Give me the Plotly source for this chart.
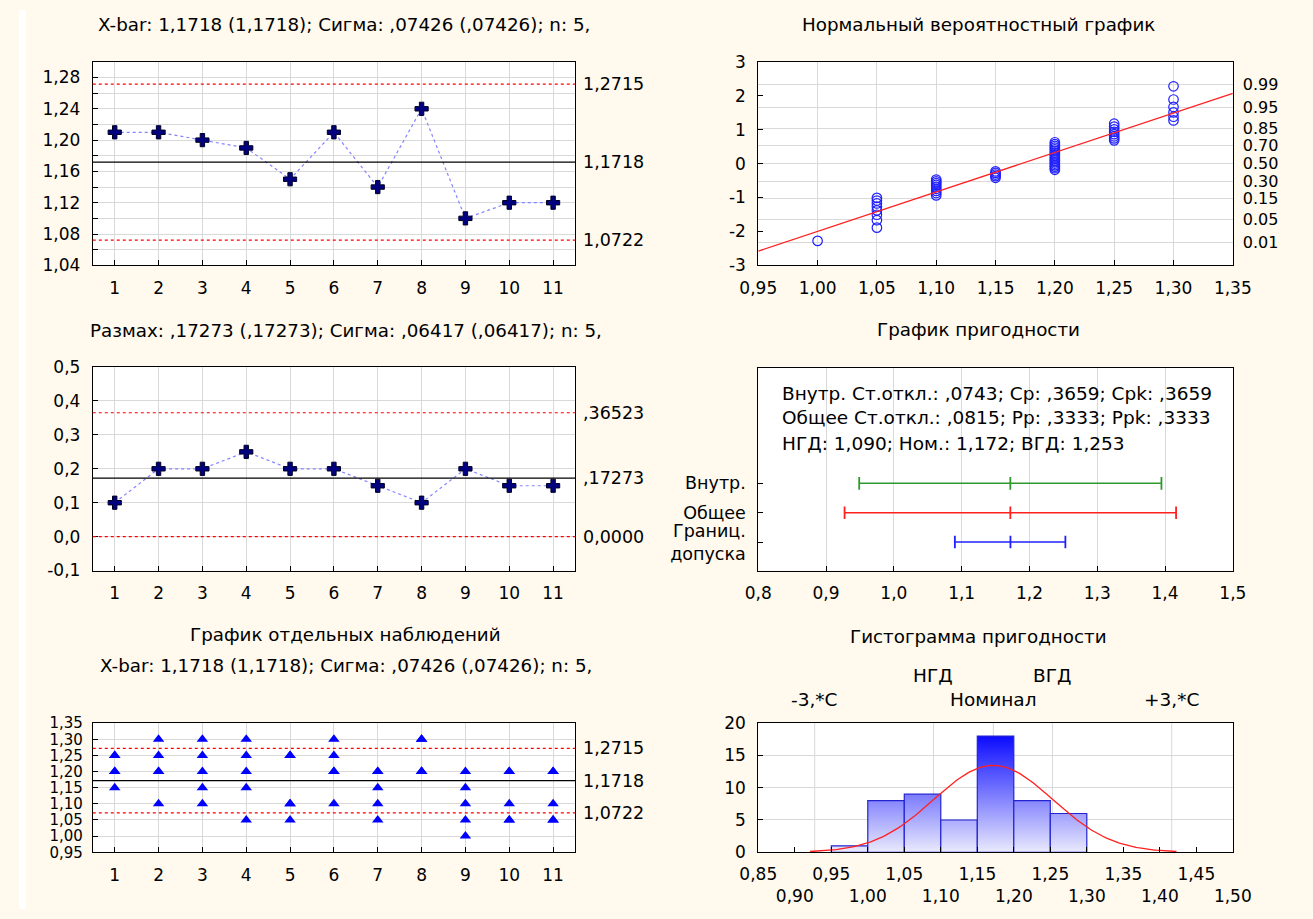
import numpy as np
import plotly.graph_objects as go
from statistics import NormalDist

W, H = 1313, 919
FONT = "DejaVu Sans"
BG = "#FFF9EE"
GRID = "#d9d9d9"

# ---------------- data ----------------
sample_no = list(range(1, 12))

# individual measurements, five per sample
obs_1 = [1.25, 1.25, 1.20, 1.20, 1.15]
obs_2 = [1.30, 1.25, 1.20, 1.20, 1.10]
obs_3 = [1.30, 1.25, 1.20, 1.15, 1.10]
obs_4 = [1.30, 1.25, 1.20, 1.15, 1.05]
obs_5 = [1.25, 1.25, 1.10, 1.10, 1.05]
obs_6 = [1.30, 1.25, 1.20, 1.20, 1.10]
obs_7 = [1.20, 1.20, 1.15, 1.10, 1.05]
obs_8 = [1.30, 1.30, 1.20, 1.20, 1.20]
obs_9 = [1.20, 1.15, 1.10, 1.05, 1.00]
obs_10 = [1.20, 1.20, 1.10, 1.05, 1.05]
obs_11 = [1.20, 1.20, 1.10, 1.05, 1.05]
samples = [obs_1, obs_2, obs_3, obs_4, obs_5, obs_6, obs_7, obs_8, obs_9, obs_10, obs_11]

# sample means and ranges
xbar_values = [1.21, 1.21, 1.20, 1.19, 1.15, 1.21, 1.14, 1.24, 1.10, 1.12, 1.12]
range_values = [0.10, 0.20, 0.20, 0.25, 0.20, 0.20, 0.15, 0.10, 0.20, 0.15, 0.15]

# control limits
xbar_limits = [1.2715, 1.1718, 1.0722]
xbar_limit_labels = ["1,2715", "1,1718", "1,0722"]
r_limits = [0.36523, 0.17273, 0.0]
r_limit_labels = [",36523", ",17273", "0,0000"]

# histogram
hist_edges = [0.95, 1.00, 1.05, 1.10, 1.15, 1.20, 1.25, 1.30]
hist_counts = [1, 8, 9, 5, 18, 8, 6]

# capability statistics
grand_mean = 1.1718
within_sd = 0.0743
overall_sd = 0.0815
lsl, nominal, usl = 1.090, 1.172, 1.253
cap_rows = [3, 2, 1]
cap_row_labels = ["Внутр.", "Общее", "Границ.<br>допуска"]
cap_text = [
    "Внутр. Ст.откл.: ,0743; Cp: ,3659; Cpk: ,3659",
    "Общее Ст.откл.: ,0815; Pp: ,3333; Ppk: ,3333",
    "НГД: 1,090; Ном.: 1,172; ВГД: 1,253",
]

# probability ticks of the normal plot
prob_ticks = [0.01, 0.05, 0.15, 0.30, 0.50, 0.70, 0.85, 0.95, 0.99]
prob_labels = ["0.01", "0.05", "0.15", "0.30", "0.50", "0.70", "0.85", "0.95", "0.99"]

# histogram x tick labels (two staggered rows)
hist_xticks = [0.85, 0.90, 0.95, 1.00, 1.05, 1.10, 1.15, 1.20, 1.25, 1.30, 1.35, 1.40, 1.45, 1.50]


def fmt(v, nd):
    return f"{v:.{nd}f}".replace(".", ",")


def xd(a, b):
    return [a / W, b / W]


def yd(top, bottom):
    return [1 - bottom / H, 1 - top / H]


def ax(**kw):
    base = dict(showline=True, linecolor="black", linewidth=1, mirror=True,
                ticks="inside", ticklen=5, tickcolor="black",
                showgrid=True, gridcolor=GRID, gridwidth=1, zeroline=False,
                tickfont=dict(family=FONT, size=17, color="black"))
    base.update(kw)
    return base


LX = (76, 572.6)
RX = (761.3, 1250)
TITLE_SIZE = 18.3

fig = go.Figure()
shapes = []
ann = []


def title(text, xc, ypx, size=TITLE_SIZE):
    ann.append(dict(text=text, x=xc / W, y=1 - ypx / H, xref="paper", yref="paper",
                    xanchor="center", yanchor="middle", showarrow=False,
                    font=dict(family=FONT, size=size, color="black")))


def hline(xref, yref, y, color, dash, width=1.2):
    shapes.append(dict(type="line", xref=f"{xref} domain", yref=yref, x0=0, x1=1, y0=y, y1=y,
                       line=dict(color=color, width=width, dash=dash), layer="above"))


def right_label(yref, y, text):
    ann.append(dict(text=text, x=579 / W, y=y, xref="paper", yref=yref, xanchor="left",
                    yanchor="middle", showarrow=False, font=dict(family=FONT, size=17.5, color="black")))


def control_lines(xref, yref, limits, labels):
    hline(xref, yref, limits[0], "#ff0000", "3px,3px")
    hline(xref, yref, limits[1], "black", "solid")
    hline(xref, yref, limits[2], "#ff0000", "3px,3px")
    for v, t in zip(limits, labels):
        right_label(yref, v, t)


mean_line = dict(color="#8484ff", width=1.2, dash="dot")
cross_marker = dict(symbol="cross", size=11, color="#000080", line=dict(color="#000020", width=1))

# ---------------- X-bar chart ----------------
fig.add_trace(go.Scatter(x=sample_no, y=xbar_values, mode="lines+markers", xaxis="x", yaxis="y",
                         line=mean_line, marker=cross_marker))
control_lines("x", "y", xbar_limits, xbar_limit_labels)
title("X-bar: 1,1718 (1,1718); Сигма: ,07426 (,07426); n: 5,", 335, 15)

# ---------------- Range chart ----------------
fig.add_trace(go.Scatter(x=sample_no, y=range_values, mode="lines+markers", xaxis="x2", yaxis="y2",
                         line=mean_line, marker=cross_marker))
control_lines("x2", "y2", r_limits, r_limit_labels)
title("Размах: ,17273 (,17273); Сигма: ,06417 (,06417); n: 5,", 336.7, 328)

# ---------------- Individual observations ----------------
ind_x, ind_y = [], []
for k, obs in zip(sample_no, samples):
    ind_x += [k] * len(obs)
    ind_y += obs
fig.add_trace(go.Scatter(x=ind_x, y=ind_y, mode="markers", xaxis="x3", yaxis="y3",
                         marker=dict(symbol="triangle-up", size=10, color="#0000ff",
                                     line=dict(width=0))))
control_lines("x3", "y3", xbar_limits, xbar_limit_labels)
title("График отдельных наблюдений", 336.5, 638)
title("X-bar: 1,1718 (1,1718); Сигма: ,07426 (,07426); n: 5,", 336.5, 670)

# ---------------- Normal probability plot ----------------
all_obs = sorted(v for obs in samples for v in obs)
n = len(all_obs)
nd = NormalDist()
zscores = [nd.inv_cdf((i + 1 - 0.375) / (n + 0.25)) for i in range(n)]
fig.add_trace(go.Scatter(x=all_obs, y=zscores, mode="markers", xaxis="x4", yaxis="y4",
                         marker=dict(symbol="circle-open", size=9.5, color="#2020ff",
                                     line=dict(width=1.2))))
slope, icpt = np.polyfit(all_obs, zscores, 1)
fit_x = [0.95, 1.35]
fig.add_trace(go.Scatter(x=fit_x, y=[slope * v + icpt for v in fit_x], mode="lines",
                         xaxis="x4", yaxis="y4", line=dict(color="#ff2020", width=1.3)))
# probability scale on the right shares the same z range
fig.add_trace(go.Scatter(x=fit_x, y=[slope * v + icpt for v in fit_x], mode="lines",
                         xaxis="x4", yaxis="y7", line=dict(color="rgba(0,0,0,0)", width=0),
                         hoverinfo="skip"))
title("Нормальный вероятностный график", 988, 15)

# ---------------- Capability plot ----------------
cap_intervals = [
    (grand_mean - 3 * within_sd, grand_mean, grand_mean + 3 * within_sd, "#2e9a2e"),
    (grand_mean - 3 * overall_sd, grand_mean, grand_mean + 3 * overall_sd, "#ff2020"),
    (lsl, nominal, usl, "#2020ff"),
]
for row, (lo, mid, hi, col) in zip(cap_rows, cap_intervals):
    fig.add_trace(go.Scatter(x=[lo, mid, hi], y=[row] * 3, mode="lines+markers",
                             xaxis="x5", yaxis="y5", line=dict(color=col, width=1.5),
                             marker=dict(symbol="line-ns", size=9,
                                         line=dict(color=col, width=1.8))))
for t, ypx in zip(cap_text, [392, 417, 443]):
    ann.append(dict(text=t, x=784 / W, y=1 - ypx / H, xref="paper", yref="paper",
                    xanchor="left", yanchor="middle", showarrow=False,
                    font=dict(family=FONT, size=18.5, color="black")))
title("График пригодности", 988, 327)

# ---------------- Capability histogram ----------------
top_count = max(hist_counts)
for c, l, r in zip(hist_counts, hist_edges[:-1], hist_edges[1:]):
    fig.add_trace(go.Scatter(x=[l, l, r, r, l], y=[0, c, c, 0, 0], mode="lines",
                             fill="toself", xaxis="x6", yaxis="y6",
                             fillgradient=dict(type="vertical",
                                               colorscale=[[0, "#efeffd"], [1, "#0c0cff"]],
                                               start=0, stop=top_count),
                             line=dict(color="#2323d0", width=1.2)))
bw = hist_edges[1] - hist_edges[0]
cx = np.linspace(grand_mean - 3.08 * overall_sd, grand_mean + 3.08 * overall_sd, 200)
cy = n * bw * np.exp(-0.5 * ((cx - grand_mean) / overall_sd) ** 2) / (overall_sd * np.sqrt(2 * np.pi))
fig.add_trace(go.Scatter(x=cx, y=cy, mode="lines", xaxis="x6", yaxis="y6",
                         line=dict(color="#ff2020", width=1.3)))
ref_lines = [grand_mean - 3 * overall_sd, lsl, nominal, usl, grand_mean + 3 * overall_sd]
for v in ref_lines:
    shapes.append(dict(type="line", xref="x6", yref="y6 domain", x0=v, x1=v, y0=0, y1=1,
                       line=dict(color=GRID, width=1), layer="below"))
for txt, v, ypx in [("НГД", lsl, 680), ("ВГД", usl, 680), ("-3,*C", ref_lines[0], 705),
                    ("Номинал", nominal, 705), ("+3,*C", ref_lines[-1], 705)]:
    ann.append(dict(text=txt, x=v, y=1 - ypx / H, xref="x6", yref="paper", xanchor="center",
                    yanchor="middle", showarrow=False, font=dict(family=FONT, size=18.5, color="black")))
title("Гистограмма пригодности", 988, 640)

hist_ticktext = [fmt(v, 2) if i % 2 == 0 else "<br>" + fmt(v, 2) for i, v in enumerate(hist_xticks)]

# left white edge of the page
shapes.append(dict(type="rect", xref="paper", yref="paper", x0=0, x1=7 / W, y0=0, y1=1,
                   fillcolor="white", line=dict(width=0), layer="below"))

xs_samples = dict(range=[0.5, 11.5], tickvals=sample_no, ticklabelstandoff=7, tickangle=0)

fig.update_layout(
    width=W, height=H, autosize=False, margin=dict(l=0, r=0, t=0, b=0),
    paper_bgcolor=BG, plot_bgcolor="white", showlegend=False,
    separators=", ",
    font=dict(family=FONT, color="black"),
    xaxis=ax(domain=xd(*LX), anchor="y", **xs_samples),
    yaxis=ax(domain=yd(53, 261), anchor="x", range=[1.04, 1.30], tick0=1.04, dtick=0.04,
             tickformat=".2f", ticklabelstandoff=8,
             minor=dict(dtick=0.02, tick0=1.04, showgrid=True, gridcolor=GRID,
                        ticks="inside", ticklen=5, tickcolor="black")),
    xaxis2=ax(domain=xd(*LX), anchor="y2", **xs_samples),
    yaxis2=ax(domain=yd(365, 573), anchor="x2", range=[-0.1, 0.5],
              tickvals=[-0.1, 0, 0.1, 0.2, 0.3, 0.4, 0.5],
              ticktext=["-0,1", "0,0", "0,1", "0,2", "0,3", "0,4", "0,5"], ticklabelstandoff=8),
    xaxis3=ax(domain=xd(*LX), anchor="y3", **xs_samples),
    yaxis3=ax(domain=yd(729, 861), anchor="x3", range=[0.95, 1.35], tick0=0.95, dtick=0.05,
              tickformat=".2f", ticklabelstandoff=6,
              tickfont=dict(family=FONT, size=15, color="black")),
    xaxis4=ax(domain=xd(*RX), anchor="y4", range=[0.95, 1.35], tick0=0.95, dtick=0.05,
              tickformat=".2f", ticklabelstandoff=7, tickangle=0),
    yaxis4=ax(domain=yd(53, 261), anchor="x4", range=[-3, 3], tickvals=[-3, -2, -1, 0, 1, 2, 3],
              ticktext=["-3", "-2", "-1", "0", "1", "2", "3"], showgrid=False, ticklabelstandoff=8),
    yaxis7=ax(overlaying="y4", side="right", anchor="x4", range=[-3, 3],
              tickvals=[nd.inv_cdf(p) for p in prob_ticks], ticktext=prob_labels,
              showline=False, ticks="", ticklabelstandoff=9,
              tickfont=dict(family=FONT, size=16, color="black")),
    xaxis5=ax(domain=xd(*RX), anchor="y5", range=[0.8, 1.5], tick0=0.8, dtick=0.1,
              tickformat=".1f", ticklabelstandoff=7, tickangle=0),
    yaxis5=ax(domain=yd(366, 573), anchor="x5", range=[0.03, 6.93], tickvals=cap_rows,
              ticktext=cap_row_labels, showgrid=False, ticklabelstandoff=8,
              tickfont=dict(family=FONT, size=17.5, color="black")),
    xaxis6=ax(domain=xd(*RX), anchor="y6", range=[0.85, 1.50], tickvals=hist_xticks,
              ticktext=hist_ticktext, showgrid=False, ticklabelstandoff=6, tickangle=0),
    yaxis6=ax(domain=yd(729, 861), anchor="x6", range=[0, 20], dtick=5, ticklabelstandoff=8),
    shapes=shapes,
    annotations=ann,
)

fig.write_html("out.html")
